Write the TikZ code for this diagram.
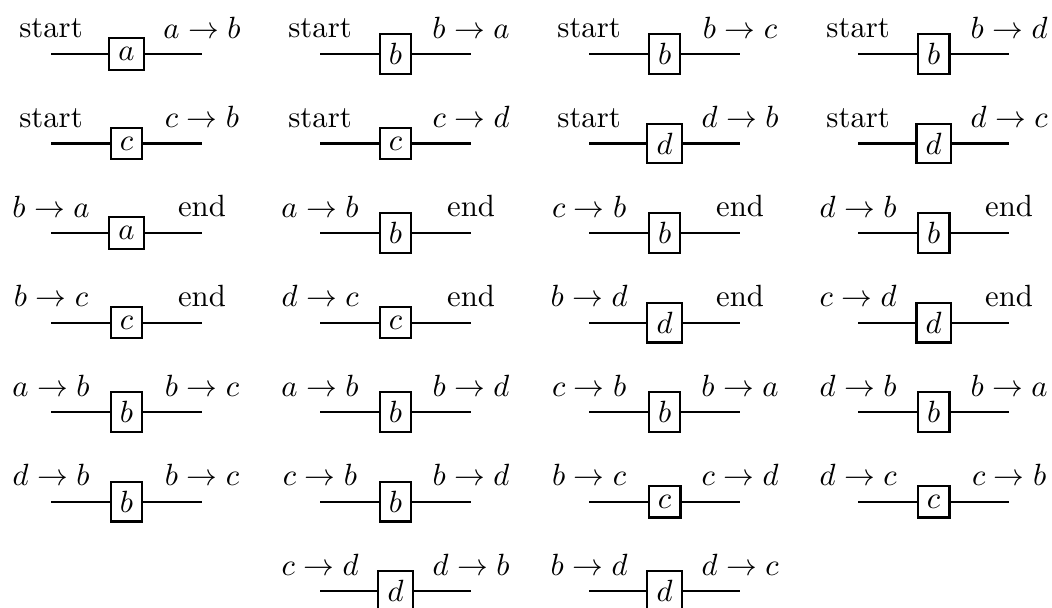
\documentclass[tikz,border=0pt]{standalone}
\usepackage{amsmath}
\usetikzlibrary{calc}

\begin{document}
\begin{tikzpicture}[line width=0.7pt,
  caja/.style={draw,inner sep=3pt},
  rotulo/.style={above=1.5pt,inner sep=3.33pt}]
  \useasboundingbox (-1.448,0.618) rectangle (10.595,-6.342);
  % columna/fila/letra/entrada/salida
  \foreach \c/\r/\v/\ent/\sal [count=\i] in {
    1/1/a/start/$a\to b$, 2/1/b/start/$b\to a$, 3/1/b/start/$b\to c$, 4/1/b/start/$b\to d$,
    1/2/c/start/$c\to b$, 2/2/c/start/$c\to d$, 3/2/d/start/$d\to b$, 4/2/d/start/$d\to c$,
    1/3/a/$b\to a$/end, 2/3/b/$a\to b$/end, 3/3/b/$c\to b$/end, 4/3/b/$d\to b$/end,
    1/4/c/$b\to c$/end, 2/4/c/$d\to c$/end, 3/4/d/$b\to d$/end, 4/4/d/$c\to d$/end,
    1/5/b/$a\to b$/$b\to c$, 2/5/b/$a\to b$/$b\to d$, 3/5/b/$c\to b$/$b\to a$, 4/5/b/$d\to b$/$b\to a$,
    1/6/b/$d\to b$/$b\to c$, 2/6/b/$c\to b$/$b\to d$, 3/6/c/$b\to c$/$c\to d$, 4/6/c/$d\to c$/$c\to b$,
    2/7/d/$c\to d$/$d\to b$, 3/7/d/$b\to d$/$d\to c$}{
    \node[caja] (v\i) at ({(\c-1)*3.08},{-(\r-1)*1.025}) {$\v$};
    \coordinate (l\i) at ($(v\i)+(-0.864,0)$);
    \coordinate (r\i) at ($(v\i)+(0.864,0)$);
    \draw (l\i)--(v\i.west); \draw (v\i.east)--(r\i);
    % rotulos sobre los extremos
    \node[rotulo] (e\i) at (l\i) {\ent};
    \node[rotulo] (s\i) at (r\i) {\sal};
  }
\end{tikzpicture}
\end{document}
